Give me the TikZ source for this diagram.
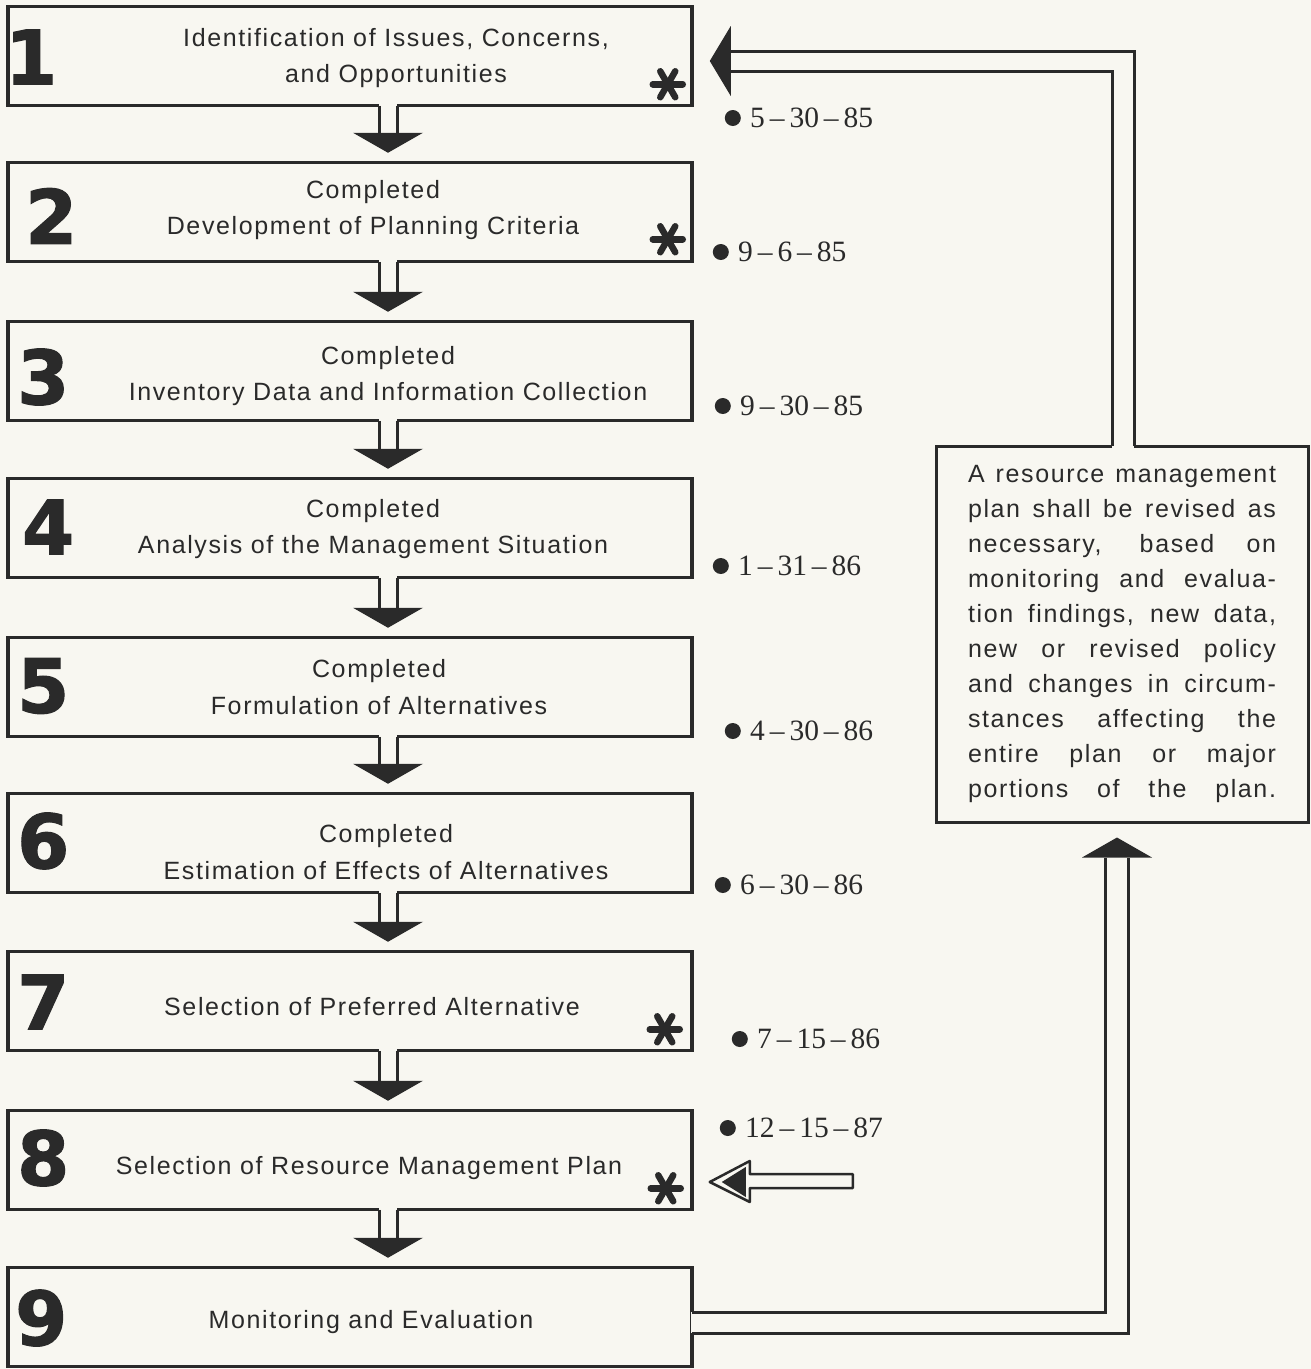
\documentclass[tikz,border=0pt]{standalone}
\usepackage{fontspec}
\setmainfont{Liberation Sans}[LetterSpace=6.5]
\newfontfamily\datefont{Liberation Serif}
\newfontfamily\numfont{DejaVu Sans Bold}[FakeBold=1.5]
\usetikzlibrary{calc}
\definecolor{ink}{HTML}{2A2A2A}
\definecolor{paper}{HTML}{F8F7F1}

\begin{document}
\begin{tikzpicture}[
    x=1pt, y=-1pt,
    % Stage box style
    stagebox/.style={
        rectangle,
        draw=ink,
        line width=3.5pt,
        minimum width=684pt,
        minimum height=99pt,
        inner sep=0pt
    },
    % Stage caption
    stagetext/.style={
        font=\fontsize{25}{36.5}\selectfont,
        text=ink,
        align=center,
        inner sep=0pt
    },
    % Big stage number
    stagenum/.style={
        font=\numfont\fontsize{75}{75}\selectfont,
        text=ink,
        inner sep=0pt
    },
    % Revision note
    notebox/.style={
        rectangle,
        draw=ink,
        line width=3pt,
        text=ink,
        text width=308pt,
        align=justify,
        minimum width=372pt,
        minimum height=376pt,
        inner xsep=32pt,
        font=\fontsize{25}{35}\selectfont
    },
    % Target dates
    datenote/.style={
        anchor=west,
        font=\datefont\fontsize{29.5}{29.5}\selectfont,
        text=ink,
        inner sep=0pt,
        label={[dotmark]left:{}}
    },
    dotmark/.style={
        circle,
        fill=ink,
        inner sep=0pt,
        minimum size=16pt,
        xshift=-9pt
    },
    stem/.style={
        draw=ink,
        line width=3pt
    },
    channel/.style={
        draw=ink,
        line width=3pt
    },
    asterisk/.pic={
        \foreach \a in {0,60,...,300}
            \draw[ink, line width=6.5pt, line cap=round] (0pt,0pt) -- (\a:15pt);
    }
]

\fill[paper] (0,0) rectangle (1311,1369);
\useasboundingbox (0,0) rectangle (1311,1369);

% === Stage boxes ===
\node[stagebox] (b1) at (350,56) {};
\node[stagebox] (b2) at (350,212) {};
\node[stagebox] (b3) at (350,371) {};
\node[stagebox] (b4) at (350,528) {};
\node[stagebox] (b5) at (350,687) {};
\node[stagebox] (b6) at (350,843) {};
\node[stagebox] (b7) at (350,1001) {};
\node[stagebox] (b8) at (350,1160) {};
\node[stagebox] (b9) at (350,1317) {};

% === Stage numbers ===
\node[stagenum] (n1) at ($(b1.west)+(25,1)$) {1};
\node[stagenum] (n2) at ($(b2.west)+(45,4)$) {2};
\node[stagenum] (n3) at ($(b3.west)+(37,6)$) {3};
\node[stagenum] (n4) at ($(b4.west)+(42,-1)$) {4};
\node[stagenum] (n5) at ($(b5.west)+(37,-1)$) {5};
\node[stagenum] (n6) at ($(b6.west)+(37,-2)$) {6};
\node[stagenum] (n7) at ($(b7.west)+(37,1)$) {7};
\node[stagenum] (n8) at ($(b8.west)+(37,-2)$) {8};
\node[stagenum] (n9) at ($(b9.west)+(35,1)$) {9};

% === Stage captions ===
\node[stagetext] (t1) at ($(b1.center)+(46,2)$) {Identification of Issues, Concerns,\\and Opportunities};
\node[stagetext] (t2) at ($(b2.center)+(23,-2)$) {Completed\\Development of Planning Criteria};
\node[stagetext] (t3) at ($(b3.center)+(38,5)$) {Completed\\Inventory Data and Information Collection};
\node[stagetext] (t4) at ($(b4.center)+(23,1)$) {Completed\\Analysis of the Management Situation};
\node[stagetext] (t5) at ($(b5.center)+(29,0)$) {Completed\\Formulation of Alternatives};
\node[stagetext] (t6) at ($(b6.center)+(36,9)$) {Completed\\Estimation of Effects of Alternatives};
\node[stagetext] (t7) at ($(b7.center)+(22,6)$) {Selection of Preferred Alternative};
\node[stagetext] (t8) at ($(b8.center)+(19,8)$) {Selection of Resource Management Plan};
\node[stagetext] (t9) at ($(b9.center)+(21,5)$) {Monitoring and Evaluation};

% === Asterisks ===
\pic at ($(b1.south east)+(-26,-23)$) {asterisk};
\pic at ($(b2.south east)+(-26,-24)$) {asterisk};
\pic at ($(b7.south east)+(-29,-23)$) {asterisk};
\pic at ($(b8.south east)+(-28,-23)$) {asterisk};

% === Dates ===
\node[datenote] (d1) at (750,118) {5\,–\,30\,–\,85};
\node[datenote] (d2) at (738,252) {9\,–\,6\,–\,85};
\node[datenote] (d3) at (740,406) {9\,–\,30\,–\,85};
\node[datenote] (d4) at (738,566) {1\,–\,31\,–\,86};
\node[datenote] (d5) at (750,731) {4\,–\,30\,–\,86};
\node[datenote] (d6) at (740,885) {6\,–\,30\,–\,86};
\node[datenote] (d7) at (757,1039) {7\,–\,15\,–\,86};
\node[datenote] (d8) at (745,1128) {12\,–\,15\,–\,87};

% === Flow arrows between stages ===
\coordinate (spine) at (388,0);
\foreach \a/\b in {b1/b2,b2/b3,b3/b4,b4/b5,b5/b6,b6/b7,b7/b8,b8/b9}{
    \fill[paper] ($(\a.south -| spine)+(-9,-3)$) rectangle ($(\b.north -| spine)+(9,-27)$);
    \draw[stem] ($(\a.south -| spine)+(-9,-1.5)$) -- ($(\b.north -| spine)+(-9,-27)$);
    \draw[stem] ($(\a.south -| spine)+(9,-1.5)$) -- ($(\b.north -| spine)+(9,-27)$);
    \fill[ink] ($(\b.north -| spine)+(-35,-28)$) -- ($(\b.north -| spine)+(35,-28)$) -- ($(\b.north -| spine)+(0,-8)$) -- cycle;
}

% === Revision note ===
\node[notebox] (revise) at (1122,634) {A resource management\linebreak
plan shall be revised as\linebreak
necessary, based on\linebreak
monitoring and evalua-\linebreak
tion findings, new data,\linebreak
new or revised policy\linebreak
and changes in circum-\linebreak
stances affecting the\linebreak
entire plan or major\linebreak
portions of the plan.\parfillskip=0pt\par};

% === Feedback: monitoring -> note ===
\fill[paper] ($(b9.east)+(-3,-5)$) rectangle ($(b9.east)+(3,16)$);
\draw[channel] ($(b9.east)+(-1.5,-5)$) -| ($(revise.south)+(-16.5,34)$);
\draw[channel] ($(b9.east)+(-1.5,16)$) -| ($(revise.south)+(6.5,34)$);
\fill[ink] ($(revise.south)+(-40,34)$) -- ($(revise.south)+(30,34)$) -- ($(revise.south)+(-5,14)$) -- cycle;

% === Feedback: note -> stage 1 ===
\fill[paper] ($(revise.north)+(-10,-3)$) rectangle ($(revise.north)+(12,3)$);
\draw[channel] ($(revise.north)+(-10,1.5)$) |- ($(b1.east)+(37,15)$);
\draw[channel] ($(revise.north)+(12,1.5)$) |- ($(b1.east)+(37,-5)$);
\fill[ink] ($(b1.east)+(37,-30)$) -- ($(b1.east)+(37,40)$) -- ($(b1.east)+(16,5)$) -- cycle;

% === Pointer at stage 8 ===
\draw[ink, line width=2.5pt, fill=paper, line join=round]
    ($(b8.east)+(16,22)$) -- ($(b8.east)+(56,1)$) -- ($(b8.east)+(56,14)$)
    -- ($(b8.east)+(159,14)$) -- ($(b8.east)+(159,28)$) -- ($(b8.east)+(56,28)$)
    -- ($(b8.east)+(56,42)$) -- cycle;
\fill[ink] ($(b8.east)+(28,22)$) -- ($(b8.east)+(52,7)$) -- ($(b8.east)+(52,37)$) -- cycle;

\end{tikzpicture}
\end{document}
